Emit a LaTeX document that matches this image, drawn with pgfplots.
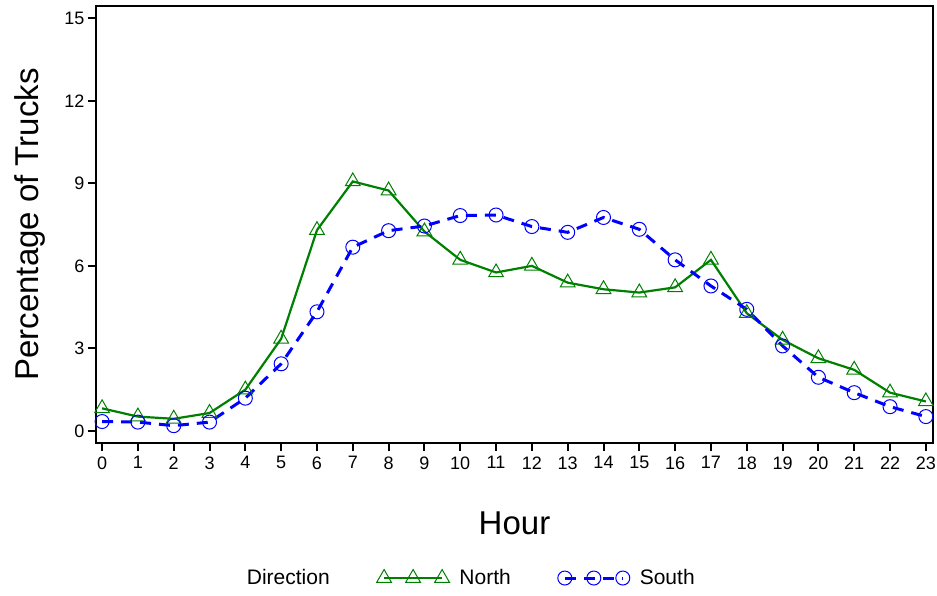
\documentclass[border=0pt]{standalone}
\usepackage{pgfplots}
\pgfplotsset{compat=1.18}
\usepackage{fontspec}
\setmainfont{Liberation Sans}
\definecolor{ngreen}{RGB}{0,128,0}
\definecolor{sblue}{RGB}{0,0,255}
\pgfplotsset{threemark/.style={legend image code/.code={\draw[##1,mark repeat=1] plot coordinates {(0pt,0pt) (29pt,0pt) (58pt,0pt)};}}}
\begin{document}
\begin{tikzpicture}
\useasboundingbox (-96pt,-153pt) rectangle (841pt,443pt);
\begin{axis}[
  at={(0,0)}, anchor=south west,
  scale only axis, width=837pt, height=437pt,
  xmin=-0.17, xmax=23.2, ymin=-0.44, ymax=15.45,
  axis line style={line width=2.5pt},
  xtick={0,...,23}, ytick={0,3,...,15},
  tick align=outside, tick pos=left,
  major tick length=8pt,
  tick style={line width=2pt, black},
  /pgf/number format/assume math mode=true,
  ticklabel style={font=\fontsize{18pt}{20pt}\selectfont},
  xticklabel style={yshift=-2pt},
  label style={font=\fontsize{33pt}{36pt}\selectfont},
  xlabel={Hour}, ylabel={Percentage of Trucks},
  xlabel style={at={(axis description cs:0.5,-0.183)}, anchor=center},
  ylabel style={at={(axis description cs:-0.0789,0.5)}, anchor=center},
  legend columns=3,
  legend style={draw=none, at={(axis description cs:0.443,-0.309)}, anchor=center,
    font=\fontsize{21pt}{24pt}\selectfont,
    /tikz/every odd column/.append style={column sep=8pt},
    /tikz/every even column/.append style={column sep=45pt}},
  legend cell align=left,
]
\addlegendimage{empty legend}
\addlegendentry{Direction}
\addplot[color=ngreen, line width=2.2pt, mark=triangle, mark size=8.5pt,
  mark options={solid, line width=1pt, draw=ngreen}, threemark]
coordinates {
(0,0.82) (1,0.52) (2,0.44) (3,0.65) (4,1.50) (5,3.35) (6,7.30) (7,9.07)
(8,8.74) (9,7.25) (10,6.22) (11,5.76) (12,6.00) (13,5.39) (14,5.15) (15,5.03)
(16,5.22) (17,6.22) (18,4.28) (19,3.31) (20,2.64) (21,2.22) (22,1.39) (23,1.07)
};
\addlegendentry{North}
\addplot[color=sblue, line width=3pt, dash pattern=on 11pt off 8pt, mark=o, mark size=7pt,
  mark options={solid, line width=1pt, draw=sblue}, threemark]
coordinates {
(0,0.34) (1,0.32) (2,0.19) (3,0.32) (4,1.19) (5,2.44) (6,4.33) (7,6.68)
(8,7.28) (9,7.45) (10,7.83) (11,7.85) (12,7.43) (13,7.22) (14,7.76) (15,7.33)
(16,6.22) (17,5.27) (18,4.42) (19,3.09) (20,1.95) (21,1.39) (22,0.88) (23,0.52)
};
\addlegendentry{South}
\end{axis}
\end{tikzpicture}
\end{document}
